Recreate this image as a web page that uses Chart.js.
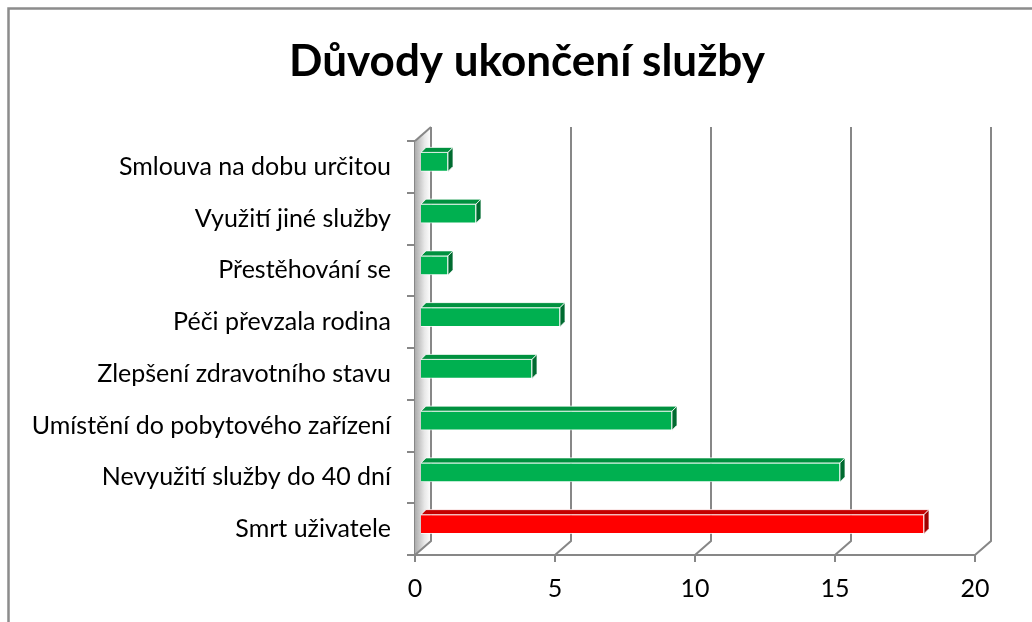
<!DOCTYPE html>
<html>
<head>
<meta charset="utf-8">
<script src="https://cdn.jsdelivr.net/npm/chart.js@4.4.1/dist/chart.umd.min.js"></script>
<style>
  html, body { margin: 0; background: #fff; }
  #wrap { width: 1032px; height: 622px; }
</style>
</head>
<body>
<div id="wrap"><canvas id="chart"></canvas></div>
<script>
const chartTitle = 'Důvody ukončení služby';
const categories = [
  'Smlouva na dobu určitou',
  'Využití jiné služby',
  'Přestěhování se',
  'Péči převzala rodina',
  'Zlepšení zdravotního stavu',
  'Umístění do pobytového zařízení',
  'Nevyužití služby do 40 dní',
  'Smrt uživatele'
];
const counts = [1, 2, 1, 5, 4, 9, 15, 18];
const xMin = 0, xMax = 20, xStep = 5;

const GRID = '#878787';
const WALL = { dx: 16, dy: -14 };   // depth of the back wall
const BAR = { shift: 5, depth: 5 };  // bars sit a little behind the front plane

const isRed = i => i === categories.length - 1;
const faceColors = counts.map((v, i) => isRed(i) ? '#ff0000' : '#00b050');
const topColors = counts.map((v, i) => isRed(i) ? '#c40000' : '#00913f');
const sideColors = counts.map((v, i) => isRed(i) ? '#a00000' : '#006b30');

// outer frame, title, 3D walls behind the bars
const frame3d = {
  id: 'frame3d',
  beforeDraw(chart) {
    const ctx = chart.ctx;
    ctx.save();
    ctx.strokeStyle = '#8c8c8c';
    ctx.lineWidth = 2.5;
    ctx.beginPath();
    ctx.moveTo(8.5, chart.height);
    ctx.lineTo(8.5, 8.5);
    ctx.lineTo(chart.width, 8.5);
    ctx.stroke();
    // title sits centred over the whole plot incl. labels (Excel style)
    ctx.fillStyle = '#000';
    ctx.font = 'bold 44px Lato';
    ctx.textAlign = 'center';
    ctx.textBaseline = 'middle';
    ctx.fillText(chartTitle, 527, 62);
    ctx.restore();
  },
  beforeDatasetsDraw(chart) {
    const { ctx, chartArea: a, scales: { x } } = chart;
    const { dx, dy } = WALL;
    ctx.save();
    // side wall
    const g = ctx.createLinearGradient(a.left, 0, a.left + dx, 0);
    g.addColorStop(0, '#acacac');
    g.addColorStop(0.6, '#e8e8e8');
    g.addColorStop(1, '#ffffff');
    ctx.fillStyle = g;
    ctx.beginPath();
    ctx.moveTo(a.left, a.top);
    ctx.lineTo(a.left + dx, a.top + dy);
    ctx.lineTo(a.left + dx, a.bottom + dy);
    ctx.lineTo(a.left, a.bottom);
    ctx.closePath();
    ctx.fill();

    ctx.strokeStyle = GRID;
    ctx.lineWidth = 2;
    ctx.beginPath();
    ctx.moveTo(a.left, a.top);
    ctx.lineTo(a.left + dx, a.top + dy);
    ctx.stroke();
    // back wall verticals and floor diagonals
    for (let v = xMin; v <= xMax; v += xStep) {
      const px = x.getPixelForValue(v);
      ctx.beginPath();
      ctx.moveTo(px + dx, a.top + dy);
      ctx.lineTo(px + dx, a.bottom + dy);
      ctx.lineTo(px, a.bottom);
      ctx.stroke();
    }
    ctx.restore();
  }
};

// shift bars back and give them a top and a side face
const bars3d = {
  id: 'bars3d',
  beforeDatasetsDraw(chart) {
    chart.ctx.save();
    chart.ctx.translate(BAR.shift, -BAR.shift);
  },
  afterDatasetsDraw(chart) {
    const ctx = chart.ctx;
    const d = BAR.depth;
    chart.getDatasetMeta(0).data.forEach((bar, i) => {
      const { x, y, base, height } = bar.getProps(['x', 'y', 'base', 'height'], true);
      const top = y - height / 2, bot = y + height / 2;
      ctx.strokeStyle = 'rgba(255,255,255,0.75)';
      ctx.lineWidth = 1;
      ctx.fillStyle = topColors[i];
      ctx.beginPath();
      ctx.moveTo(base, top);
      ctx.lineTo(base + d, top - d);
      ctx.lineTo(x + d, top - d);
      ctx.lineTo(x, top);
      ctx.closePath();
      ctx.fill();
      ctx.stroke();
      ctx.fillStyle = sideColors[i];
      ctx.beginPath();
      ctx.moveTo(x, top);
      ctx.lineTo(x + d, top - d);
      ctx.lineTo(x + d, bot - d);
      ctx.lineTo(x, bot);
      ctx.closePath();
      ctx.fill();
      ctx.stroke();
    });
    ctx.restore();
  }
};

new Chart(document.getElementById('chart'), {
  type: 'bar',
  data: {
    labels: categories,
    datasets: [{
      data: counts,
      backgroundColor: faceColors,
      borderColor: 'rgba(255,255,255,0.75)',
      borderWidth: 1,
      barThickness: 19,
      clip: false
    }]
  },
  options: {
    indexAxis: 'y',
    responsive: true,
    maintainAspectRatio: false,
    animation: false,
    layout: { padding: { left: 15, right: 57, top: 141, bottom: 17 } },
    plugins: {
      legend: { display: false },
      tooltip: { enabled: false },
      title: { display: false }
    },
    scales: {
      x: {
        min: xMin,
        max: xMax,
        ticks: {
          stepSize: xStep,
          color: '#000',
          font: { family: 'Lato', size: 25 },
          padding: 12
        },
        grid: { drawOnChartArea: false, drawTicks: true, tickLength: 7, color: GRID, lineWidth: 2 },
        border: { display: true, color: GRID, width: 2 },
        afterFit(scale) { scale.height = 50; }
      },
      y: {
        ticks: {
          color: '#000',
          font: { family: 'Lato', size: 25 },
          padding: 16
        },
        grid: { drawOnChartArea: false, drawTicks: true, tickLength: 8, color: GRID, lineWidth: 2 },
        border: { display: true, color: GRID, width: 2 },
        afterFit(scale) { scale.width = 400; }
      }
    }
  },
  plugins: [frame3d, bars3d]
});
</script>
</body>
</html>
